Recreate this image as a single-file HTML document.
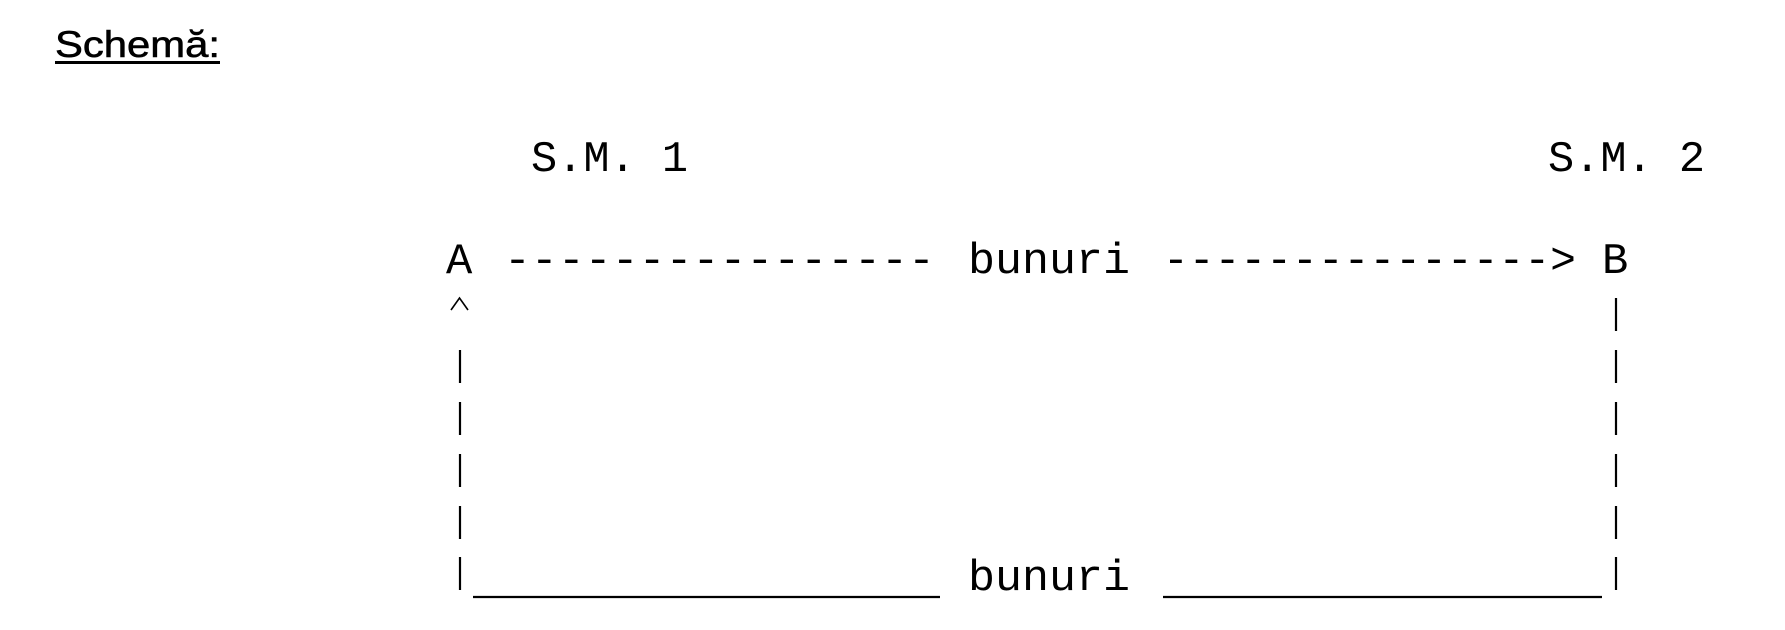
<!DOCTYPE html>
<html><head><meta charset="utf-8"><style>
html,body{margin:0;padding:0;background:#fff;}
svg{display:block;}
.m{font-family:"Liberation Mono",monospace;font-size:43.8px;fill:#000;white-space:pre;}
</style></head><body>
<svg width="1785" height="630" viewBox="0 0 1785 630" xmlns="http://www.w3.org/2000/svg">
<text x="55" y="57" font-family="Liberation Sans, sans-serif" font-size="37" textLength="165" lengthAdjust="spacingAndGlyphs" stroke="#000" stroke-width="0.6">Schemă:</text>
<rect x="55" y="61" width="165" height="3" fill="#000"/>
<text class="m" x="531" y="171" textLength="157" lengthAdjust="spacingAndGlyphs" xml:space="preserve">S.M. 1</text>
<text class="m" x="1548" y="171" textLength="157" lengthAdjust="spacingAndGlyphs" xml:space="preserve">S.M. 2</text>
<text class="m" x="446" y="273">A</text>
<text class="m" x="504" y="273" textLength="431" lengthAdjust="spacingAndGlyphs">----------------</text>
<text class="m" x="968" y="273" textLength="162" lengthAdjust="spacingAndGlyphs">bunuri</text>
<text class="m" x="1163" y="273" textLength="413" lengthAdjust="spacingAndGlyphs">---------------&gt;</text>
<text class="m" x="1602" y="273">B</text>
<text class="m" x="968" y="590" textLength="162" lengthAdjust="spacingAndGlyphs">bunuri</text>
<polyline points="451,310 459.5,298 468,310" fill="none" stroke="#000" stroke-width="1.6"/>
<g stroke="#000" stroke-width="2.2">
<line x1="460" y1="350" x2="460" y2="383"/>
<line x1="460" y1="402" x2="460" y2="435"/>
<line x1="460" y1="454" x2="460" y2="487"/>
<line x1="460" y1="506" x2="460" y2="539"/>
<line x1="460" y1="557" x2="460" y2="590"/>
<line x1="1616" y1="298" x2="1616" y2="331"/>
<line x1="1616" y1="350" x2="1616" y2="383"/>
<line x1="1616" y1="402" x2="1616" y2="435"/>
<line x1="1616" y1="454" x2="1616" y2="487"/>
<line x1="1616" y1="506" x2="1616" y2="539"/>
<line x1="1616" y1="557" x2="1616" y2="590"/>
<line x1="473" y1="597" x2="940" y2="597"/>
<line x1="1163" y1="597" x2="1602" y2="597"/>
</g>
</svg>
</body></html>
